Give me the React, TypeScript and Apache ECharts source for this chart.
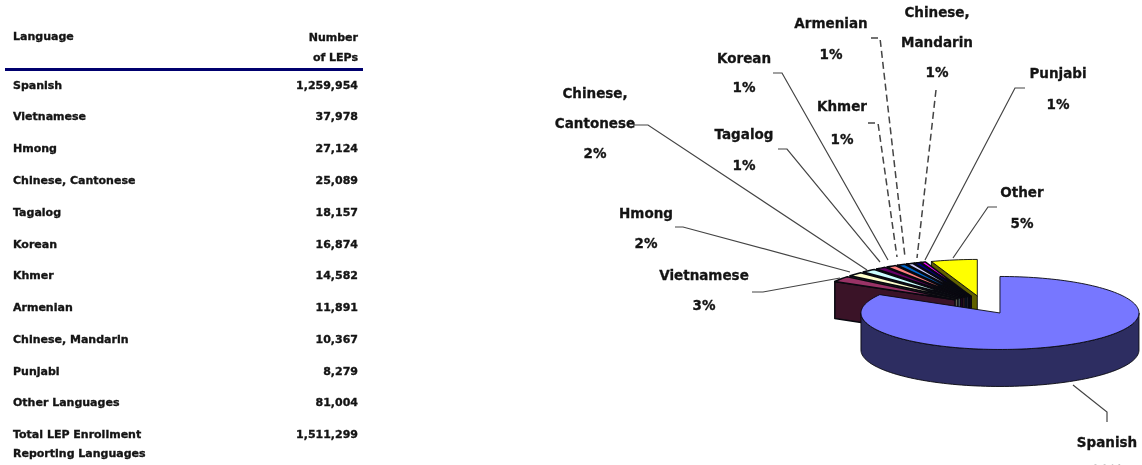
import React, { useEffect, useRef } from "react";
import * as echarts from "echarts";

// ---- data ----
const languages = ["Spanish", "Vietnamese", "Hmong", "Chinese, Cantonese", "Tagalog", "Korean", "Khmer", "Armenian", "Chinese, Mandarin", "Punjabi", "Other Languages"];
const lepCounts = [1259954, 37978, 27124, 25089, 18157, 16874, 14582, 11891, 10367, 8279, 81004];
const totalLep = 1511299;
const pieNames = [["Spanish"], ["Vietnamese"], ["Hmong"], ["Chinese,", "Cantonese"], ["Tagalog"], ["Korean"], ["Khmer"], ["Armenian"], ["Chinese,", "Mandarin"], ["Punjabi"], ["Other"]];
const piePercents = ["83%", "3%", "2%", "2%", "1%", "1%", "1%", "1%", "1%", "1%", "5%"];
const sliceColors = ["#7777ff", "#993366", "#ffffcc", "#ccffff", "#660066", "#ff8080", "#0066cc", "#ccccff", "#000080", "#ff00ff", "#ffff00"];

// ---- layout (not data) ----
const TEXT = "#141414";
const FONT_T = 'bold 11px "DejaVu Sans"';
const FONT_P = 'bold 13.5px "DejaVu Sans"';
const rowYs = [85, 116.5, 148, 180, 212, 244, 275.5, 307, 339, 371, 402];
const labelPos: [number, number, number][] = [
  [1107, 442, 28], [704, 275, 30], [646, 213, 30], [595, 93, 30], [744, 134, 31], [744, 58, 29], [842, 106, 33], [831, 23, 31], [937, 12, 30], [1058, 73, 31], [1022, 192, 31],
];
const leaders: { pts: number[][]; dash?: boolean }[] = [
  { pts: [[1073, 385], [1107, 412], [1107, 422]] },
  { pts: [[752, 292], [763, 292], [840, 278]] },
  { pts: [[675, 227], [683, 227], [850, 272]] },
  { pts: [[633, 125], [648, 125], [867, 270]] },
  { pts: [[778, 149], [787, 149], [880, 262]] },
  { pts: [[773, 73], [782, 73], [888, 260]] },
  { pts: [[868, 123], [878, 123], [897, 257]], dash: true },
  { pts: [[871, 38], [880, 38], [905, 257]], dash: true },
  { pts: [[936, 90], [917, 258]], dash: true },
  { pts: [[1025, 88], [1015, 88], [925, 260]] },
  { pts: [[997, 207], [988, 207], [953, 258]] },
];
const CX = 983, CY = 305, EX = 34, EY = 9.2, RX = 139, RY = 36.5, DEPTH = 37;

const sum = lepCounts.reduce((a, b) => a + b, 0);
const startAngles: number[] = [];
lepCounts.reduce((acc, v, i) => { startAngles[i] = acc; return acc + (v / sum) * 360; }, 0);

function shade(hex: string, f: number) {
  const n = parseInt(hex.slice(1), 16);
  const c = [(n >> 16) & 255, (n >> 8) & 255, n & 255].map((v) => Math.round(v * f));
  return `rgb(${c[0]},${c[1]},${c[2]})`;
}

function renderSlice(_: any, api: any) {
  const i = api.value(1);
  const sweep = (api.value(0) / sum) * 360;
  const a0 = startAngles[i];
  const a1 = a0 + sweep;
  const mid = ((a0 + a1) / 2) * (Math.PI / 180);
  const ox = CX + EX * Math.sin(mid);
  const oy = CY - EY * Math.cos(mid);
  const at = (deg: number, dz = 0) => {
    const r = deg * (Math.PI / 180);
    return [ox + RX * Math.sin(r), oy - RY * Math.cos(r) + dz];
  };
  const color = sliceColors[i];
  const side = shade(color, 0.38);
  const rear = a0 > 200;
  const line = { stroke: "#08080f", lineWidth: rear && i !== 10 ? 1.5 : 0.9, lineJoin: "round" };
  const children: any[] = [];
  const arc: number[][] = [];
  const steps = Math.max(4, Math.ceil(sweep / 2));
  for (let k = 0; k <= steps; k++) arc.push(at(a0 + (sweep * k) / steps));

  if (rear) {
    // rear slices: the near radial face is the visible one
    children.push({
      type: "polygon",
      shape: { points: [[ox, oy], at(a0), at(a0, DEPTH), [ox, oy + DEPTH]] },
      style: { fill: side, ...line },
    });
  } else {
    // front wall of the big slice
    const wallTop: number[][] = [];
    const wallBottom: number[][] = [];
    for (let d = Math.max(90, a0); d <= Math.min(270, a1); d += 2) {
      wallTop.push(at(d));
      wallBottom.unshift(at(d, DEPTH));
    }
    children.push({
      type: "polygon",
      shape: { points: [...wallTop, ...wallBottom] },
      style: { fill: side, ...line },
    });
  }
  children.push({
    type: "polygon",
    shape: { points: [[ox, oy], ...arc] },
    style: { fill: color, ...line },
  });
  return { type: "group", children };
}

function tableGraphics() {
  const items: any[] = [];
  const txt = (text: string, x: number, y: number, align: string, font = FONT_T) => ({
    type: "text",
    silent: true,
    style: { text, x, y, font, fill: TEXT, stroke: TEXT, lineWidth: 0.35, textAlign: align, textVerticalAlign: "middle" },
  });
  items.push(txt("Language", 13, 36, "left"));
  items.push(txt("Number", 358, 37, "right"));
  items.push(txt("of LEPs", 358, 57, "right"));
  items.push({ type: "rect", silent: true, shape: { x: 5, y: 68, width: 358, height: 3 }, style: { fill: "#00006e" } });
  languages.forEach((l, i) => {
    items.push(txt(l, 13, rowYs[i], "left"));
    items.push(txt(lepCounts[i].toLocaleString("en-US"), 358, rowYs[i], "right"));
  });
  items.push(txt("Total LEP Enrollment", 13, 434, "left"));
  items.push(txt("Reporting Languages", 13, 453, "left"));
  items.push(txt(totalLep.toLocaleString("en-US"), 358, 434, "right"));
  return items;
}

function pieGraphics() {
  const items: any[] = [];
  leaders.forEach((l) => {
    items.push({
      type: "polyline",
      silent: true,
      z: 1,
      shape: { points: l.pts },
      style: { stroke: "#444444", lineWidth: l.dash ? 1.5 : 1.2, fill: "none", lineDash: l.dash ? [7, 4] : undefined },
    });
  });
  pieNames.forEach((lines, i) => {
    const [x, y, step] = labelPos[i];
    [...lines, piePercents[i]].forEach((t, k) => {
      items.push({
        type: "text",
        silent: true,
        z: 2,
        style: { text: t, x, y: y + k * step, font: FONT_P, fill: TEXT, stroke: TEXT, lineWidth: 0.3, textAlign: "center", textVerticalAlign: "middle" },
      });
    });
  });
  return items;
}

export default function App() {
  const ref = useRef<HTMLDivElement>(null);
  useEffect(() => {
    document.body.style.margin = "0";
    const chart = echarts.init(ref.current!, null, { renderer: "svg" });
    // drawn from the back to the front: Other ... Vietnamese, then Spanish
    const drawOrder = lepCounts.map((_, i) => (i === 0 ? 0 : lepCounts.length - i));
    drawOrder.push(drawOrder.shift()!);
    chart.setOption({
      animation: false,
      backgroundColor: "#ffffff",
      graphic: { elements: [...tableGraphics(), ...pieGraphics()] },
      series: [
        {
          type: "custom",
          coordinateSystem: "none",
          renderItem: renderSlice,
          silent: true,
          z: 5,
          clip: false,
          data: drawOrder.map((i) => [lepCounts[i], i]),
        },
      ],
    });
    return () => chart.dispose();
  }, []);
  return (
    <div
      ref={ref}
      style={{ position: "absolute", left: 0, top: 0, width: 1142, height: 465, overflow: "hidden", filter: "blur(0.7px)" }}
    />
  );
}
